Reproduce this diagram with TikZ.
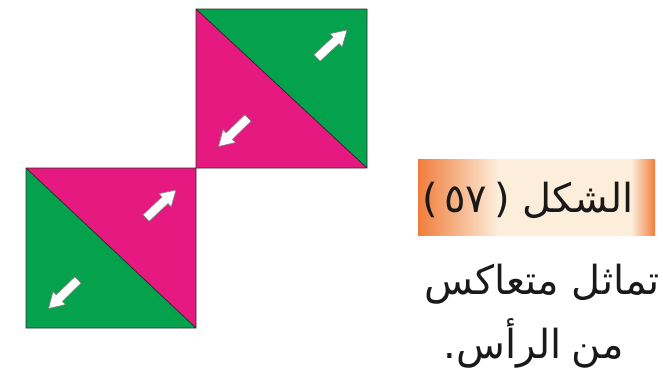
\documentclass[tikz,border=0pt]{standalone}
\usepackage{fontspec}
\newfontfamily\arabicfont[Script=Arabic]{DejaVu Sans}
\TeXXeTstate=1
\definecolor{grn}{RGB}{5,162,78}
\definecolor{mag}{RGB}{230,25,128}
\definecolor{orn}{RGB}{240,125,60}
\definecolor{lt}{RGB}{253,238,220}
\definecolor{edge}{RGB}{50,40,45}
\pgfdeclarehorizontalshading{boxshade}{100bp}{color(0bp)=(orn); color(25bp)=(orn); color(42bp)=(lt); color(70bp)=(lt); color(75bp)=(orn); color(100bp)=(orn)}
\tikzset{
  tri/.style={draw=edge, line width=0.8pt, line join=miter},
  blockarrow/.pic={\filldraw[fill=white,draw=black!50,line width=0.6pt] (0,-4.5) -- (26,-4.5) -- (26,-9) -- (41,0) -- (26,9) -- (26,4.5) -- (0,4.5) -- cycle;},
  artxt/.style={font=\arabicfont\fontsize{40}{46}\selectfont, inner sep=0pt, text=black!90}
}
\begin{document}
\begin{tikzpicture}[x=1pt,y=-1pt]
\useasboundingbox (0,0) rectangle (663,381);
% upper square
\coordinate (ua) at (196,9);
\coordinate (ub) at (367,9);
\coordinate (uc) at (367,168);
\coordinate (ud) at (196,168);
\fill[grn] (ua) -- (ub) -- (uc) -- cycle;
\fill[mag] (ua) -- (uc) -- (ud) -- cycle;
\draw[tri] (ua) -- (ub) -- (uc) -- (ud) -- cycle (ua) -- (uc);
% lower square
\coordinate (la) at (26,168);
\coordinate (lb) at (196,168);
\coordinate (lc) at (196,328);
\coordinate (ld) at (26,328);
\fill[mag] (la) -- (lb) -- (lc) -- cycle;
\fill[grn] (la) -- (lc) -- (ld) -- cycle;
\draw[tri] (la) -- (lb) -- (lc) -- (ld) -- cycle (la) -- (lc);
% arrows
\pic[rotate=43] at (317,58) {blockarrow};
\pic[rotate=224] at (248,118) {blockarrow};
\pic[rotate=43] at (146,218) {blockarrow};
\pic[rotate=224] at (78,280) {blockarrow};
% caption box
\shade[shading=boxshade] (418,159) rectangle (655,235);
\node[artxt, anchor=base east] (title) at (634,212) {\beginR الشكل (\,\beginL ٥٧\endL\,)\endR};
\node[artxt, anchor=base east] (line1) at (660,294) {\beginR تماثل متعاكس\endR};
\node[artxt, anchor=base east] (line2) at (624,358) {\spaceskip=0.26em\beginR من الرأس.\endR};
\end{tikzpicture}
\end{document}
